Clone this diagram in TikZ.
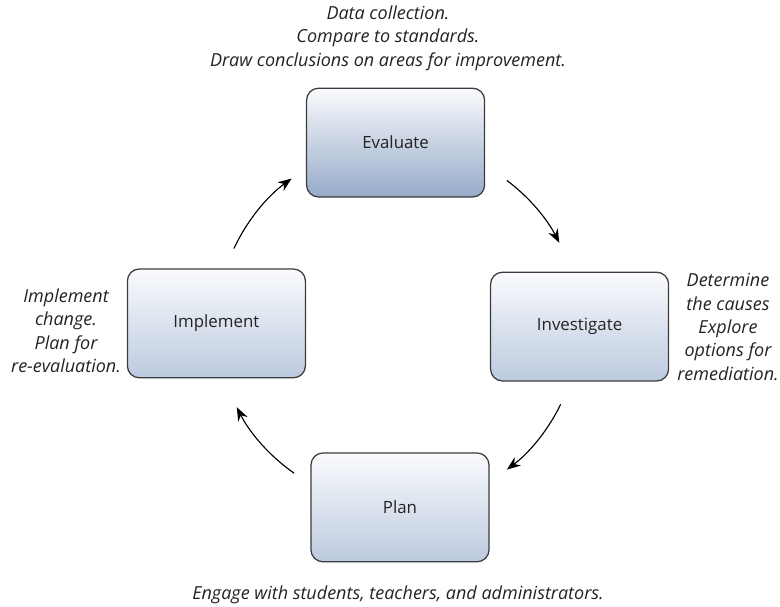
\documentclass[tikz,border=0pt]{standalone}
\usepackage{fontspec}
\setmainfont{Open Sans}
\usetikzlibrary{arrows.meta}

\definecolor{stagetop}{RGB}{250,251,253}
\definecolor{stagebottom}{RGB}{188,202,223}
\definecolor{evalbottom}{RGB}{150,170,201}
\definecolor{stageline}{RGB}{60,60,60}
\definecolor{labelgray}{RGB}{35,35,35}

\begin{document}
\begin{tikzpicture}[
	stage/.style = {draw = stageline, line width = 0.9pt, rounded corners = 8.5pt,
		minimum width = 4.45cm, minimum height = 2.72cm,
		top color = stagetop, bottom color = stagebottom,
		text = labelgray, font = \fontsize{12}{14}\selectfont},
	note/.style = {align = center, text = labelgray, font = \fontsize{12.8}{16.7}\selectfont\itshape},
	turn/.style = {line width = 0.8pt, -{Stealth[length = 3.4mm, width = 2.6mm]}}
]
\useasboundingbox (0, 0) rectangle (19.5, 15.175);

% the four stages
\node[stage, bottom color = evalbottom] (evaluate) at (9.89, 11.61) {Evaluate};
\node[stage] (investigate) at (14.49, 7.01) {Investigate};
\node[stage] (plan) at (10, 2.49) {Plan};
\node[stage] (implement) at (5.41, 7.09) {Implement};

% notes
\node[note] (evalnote) at (9.7, 14.22) {Data collection.\\Compare to standards.\\Draw conclusions on areas for improvement.};
\node[note] (invnote) at (18.2, 7.0) {Determine\\the causes\\Explore\\options for\\remediation.};
\node[note] (plannote) at (9.95, 0.3) {Engage with students, teachers, and administrators.};
\node[note] (implnote) at (1.65, 6.9) {Implement\\change.\\Plan for\\re-evaluation.};

% cycle
\coordinate (hub) at (9.95, 7.05);
\draw[turn] (hub) ++(53:4.525) arc[start angle = 53, end angle = 27, radius = 4.525];
\draw[turn] (hub) ++(-26:4.525) arc[start angle = -26, end angle = -53, radius = 4.525];
\draw[turn] (hub) ++(-125:4.525) arc[start angle = -125, end angle = -153, radius = 4.525];
\draw[turn] (hub) ++(155:4.525) arc[start angle = 155, end angle = 126, radius = 4.525];
\end{tikzpicture}
\end{document}
